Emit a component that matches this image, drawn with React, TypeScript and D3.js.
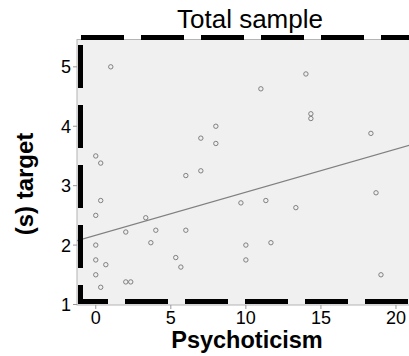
import React from "react";
import * as d3 from "d3";

const psychoticism = [1, 0, 0.33, 0.33, 0, 2, 0, 0, 0.67, 0, 0.33, 2, 2.33, 11, 8, 7, 8, 7, 6, 3.33, 4, 6, 3.67, 5.33, 5.67, 9.67, 11.33, 10, 10, 11.67, 14, 14.33, 14.33, 18.33, 13.33, 18.67, 19];
const target = [5.0, 3.5, 3.38, 2.75, 2.5, 2.22, 2.0, 1.75, 1.67, 1.5, 1.29, 1.38, 1.38, 4.63, 4.0, 3.8, 3.71, 3.25, 3.17, 2.46, 2.25, 2.25, 2.04, 1.79, 1.63, 2.71, 2.75, 2.0, 1.75, 2.04, 4.88, 4.21, 4.13, 3.88, 2.63, 2.88, 1.5];
const xTicks = [0, 5, 10, 15, 20];
const yTicks = [1, 2, 3, 4, 5];
const fitIntercept = 2.166;
const fitSlope = 0.0725;
const title = "Total sample";
const xTitle = "Psychoticism";
const yTitle = "(s) target";

export default function App() {
  const W = 409, H = 356;
  const left = 77, right = 423, top = 39.5, bottom = 305;
  const x = d3.scaleLinear().domain([-1.25, 21.8]).range([left, right]);
  const y = d3.scaleLinear().domain([1, 5.46]).range([304.5, top]);
  const xd = x.domain();
  const line = d3.line<number>().x((v) => x(v)).y((v) => y(fitIntercept + fitSlope * v));
  const font = "'Liberation Sans', Arial, sans-serif";
  const pts = psychoticism.map((p, i) => [p, target[i]]);
  return (
    <svg width={W} height={H} style={{ position: "absolute", left: 0, top: 0, background: "#fff" }} fontFamily={font}>
      <defs>
        <clipPath id="plotclip">
          <rect x={left} y={top} width={right - left} height={bottom - top} />
        </clipPath>
      </defs>
      <rect x={left} y={top} width={right - left} height={bottom - top} fill="#f0f0f0" stroke="#b4b4b4" strokeWidth={1} />
      {xTicks.map((t) => (
        <g key={"x" + t}>
          <line x1={x(t)} x2={x(t)} y1={bottom} y2={bottom + 4} stroke="#999" strokeWidth={1} />
          <text x={x(t)} y={324} textAnchor="middle" fontSize={18} fill="#000">{t}</text>
        </g>
      ))}
      {yTicks.map((t) => (
        <g key={"y" + t}>
          <line x1={left - 4} x2={left} y1={y(t)} y2={y(t)} stroke="#999" strokeWidth={1} />
          <text x={71} y={y(t)} dy="0.36em" textAnchor="end" fontSize={18} fill="#000">{t}</text>
        </g>
      ))}
      <g clipPath="url(#plotclip)">
        <path d={line([xd[0], xd[1]]) || ""} fill="none" stroke="#808080" strokeWidth={1.3} />
        {pts.map((p, i) => (
          <circle key={i} cx={x(p[0])} cy={y(p[1])} r={2.2} fill="none" stroke="#808080" strokeWidth={1} />
        ))}
      </g>
      <line x1={81} x2={right} y1={37.5} y2={37.5} stroke="#000" strokeWidth={5} strokeDasharray="43 17" />
      <line x1={80.5} x2={80.5} y1={45} y2={304} stroke="#000" strokeWidth={5} strokeDasharray="43 17" />
      <line x1={78} x2={right} y1={301.5} y2={301.5} stroke="#000" strokeWidth={5} strokeDasharray="43 17" strokeDashoffset={13} />
      <text x={250} y={28} textAnchor="middle" fontSize={26} fill="#000">{title}</text>
      <text x={247} y={348} textAnchor="middle" fontSize={23.5} fontWeight="bold" fill="#000">{xTitle}</text>
      <text transform={`translate(33,184) rotate(-90)`} textAnchor="middle" fontSize={24} fontWeight="bold" fill="#000">{yTitle}</text>
    </svg>
  );
}
